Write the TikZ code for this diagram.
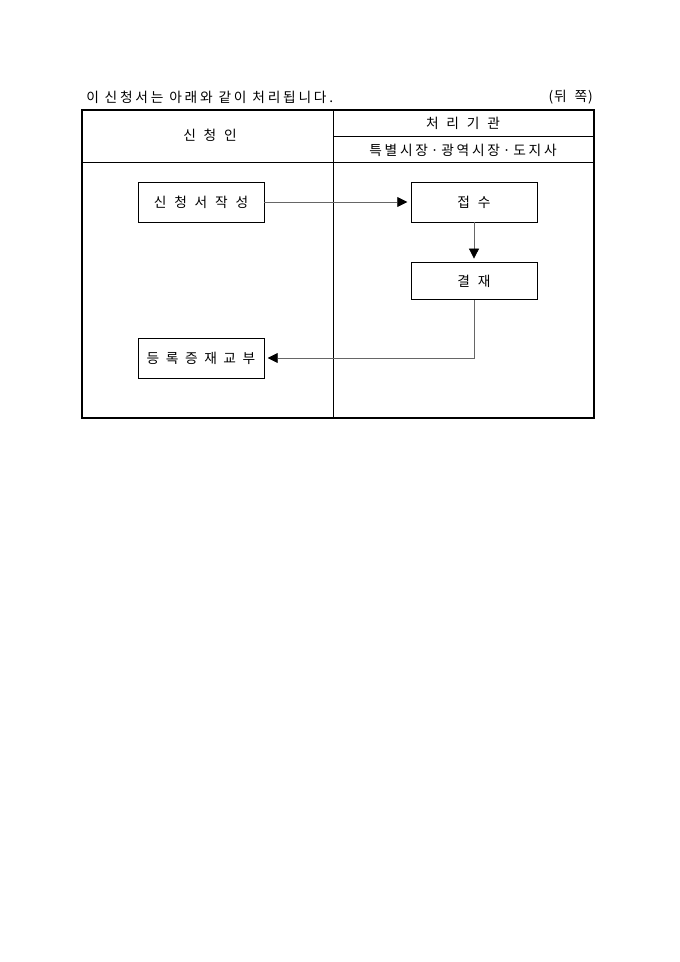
\documentclass[tikz,border=0pt]{standalone}
\usepackage{fontspec}
\setmainfont[LetterSpace=6]{Noto Sans CJK KR}
\newfontfamily\widefont[LetterSpace=20]{Noto Sans CJK KR}
\usepackage{tikz}
\usetikzlibrary{arrows.meta}
\usetikzlibrary{positioning}
\definecolor{linegray}{gray}{0.4}

\begin{document}
\begin{tikzpicture}[x=0.75pt, y=-0.75pt,
    every node/.style={font=\fontsize{10.3pt}{12pt}\selectfont, inner sep=0pt},
    stepbox/.style={draw, line width=0.6pt, minimum width=94.5pt, minimum height=30pt},
    flow/.style={draw=linegray, line width=0.6pt, shorten >=2.5pt,
                 -{Triangle[length=7.5pt, width=7.5pt, color=black]}}]
          \useasboundingbox (0,0) rectangle (680,962);

          % caption line
          \node[anchor=west, font=\fontsize{10.3pt}{12pt}\widefont] (cap) at (86,97)
                {이 신청서는 아래와 같이 처리됩니다.};
          \node[anchor=east] (pg)  at (593,97) {(뒤 \ 쪽)};

          % table frame
          \draw[line width=1.3pt] (82,110) rectangle (594,418);
          \draw[line width=0.6pt] (333,110) -- (333,418);
          \draw[line width=0.6pt] (82,162) -- (594,162);
          \draw[line width=0.6pt] (333,136) -- (594,136);

          \node (app)  at (210,135) {신 \ 청 \ 인};
          \node (org)  at (463,123) {처 \ 리 \ 기 \ 관};
          \node[font=\fontsize{10.3pt}{12pt}\widefont] (city) at (463,150)
                {특별시장·광역시장·도지사};

          % process boxes
          \node[stepbox] (write) at (201,202) {신 \ 청 \ 서 \ 작 \ 성};
          \node[stepbox] (recv)  at (474,202) {접 \ 수};
          \node[stepbox, minimum height=28pt] (sign) at (474,281) {결 \ 재};
          \node[stepbox] (issue) at (201,358)
                {등 \kern2pt 록 \kern2pt 증 \kern2pt 재 \kern2pt 교 \kern2pt 부};

          % Draw the edges
          \draw[flow] (write) -- (recv);
          \draw[flow] (recv) -- (sign);
          \draw[flow] (sign) |- (issue);
      \end{tikzpicture}
\end{document}
